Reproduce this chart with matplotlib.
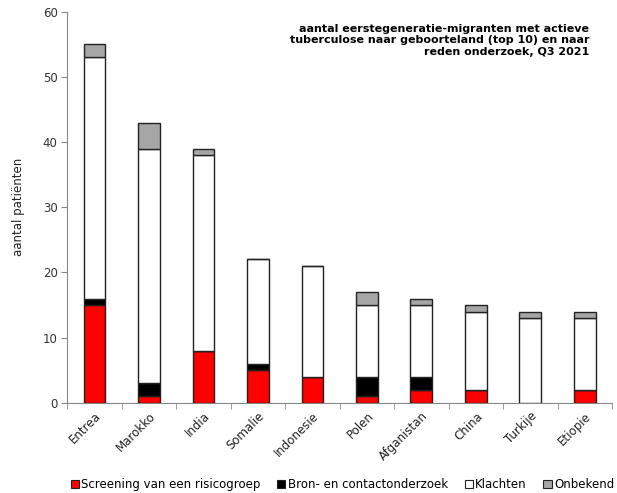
import matplotlib
matplotlib.use("Agg")
import matplotlib.pyplot as plt
import numpy as np
from matplotlib.patches import Patch

categories = ["Entrea", "Marokko", "India", "Somalie", "Indonesie", "Polen",
              "Afganistan", "China", "Turkije", "Etiopie"]
screening = [15, 1, 8, 5, 4, 1, 2, 2, 0, 2]
bron = [1, 2, 0, 1, 0, 3, 2, 0, 0, 0]
klachten = [37, 36, 30, 16, 17, 11, 11, 12, 13, 11]
onbekend = [2, 4, 1, 0, 0, 2, 1, 1, 1, 1]
series_names = ["Screening van een risicogroep", "Bron- en contactonderzoek",
                "Klachten", "Onbekend"]
colors = ["#ff0000", "#000000", "#ffffff", "#a6a6a6"]
yticks = [0, 10, 20, 30, 40, 50, 60]

plt.rcParams['font.family'] = ['DejaVu Sans']
fig = plt.figure(figsize=(6.17, 4.93), dpi=100)
ax = fig.add_axes([0.109, 0.183, 0.883, 0.793])

x = np.arange(len(categories))
bottom = np.zeros(len(categories))
for vals, col in zip([screening, bron, klachten, onbekend], colors):
    v = np.array(vals, dtype=float)
    ax.bar(x, v, bottom=bottom, width=0.4, color=col, edgecolor="#222222",
           linewidth=1.0, zorder=3)
    bottom += v

ax.set_xlim(-0.5, len(categories) - 0.5)
ax.set_ylim(0, 60)
ax.set_yticks(yticks)
ax.tick_params(axis='y', labelsize=8.5, length=4, color="#888888", pad=3,
               labelcolor="#333333")
ax.set_xticks(x)
ax.set_xticklabels(categories, rotation=45, ha='right', rotation_mode='anchor',
                   fontsize=8.5, color="#222222")
ax.tick_params(axis='x', length=0, pad=5)
ax.set_xticks(np.arange(-0.5, len(categories) + 0.5, 1), minor=True)
ax.tick_params(axis='x', which='minor', length=4, color="#888888")
for s in ["top", "right"]:
    ax.spines[s].set_visible(False)
for s in ["left", "bottom"]:
    ax.spines[s].set_color("#888888")
ax.set_ylabel("aantal patiënten", fontsize=8.5, labelpad=13, color="#222222")

ax.text(0.958, 0.97, "aantal eerstegeneratie-migranten met actieve\n"
        "tuberculose naar geboorteland (top 10) en naar\n"
        "reden onderzoek, Q3 2021",
        transform=ax.transAxes, ha='right', va='top', fontsize=8,
        fontweight='bold', linespacing=1.2)

handles = [Patch(facecolor=c, edgecolor="#222222", linewidth=0.8) for c in colors]
fig.legend(handles, series_names, loc='lower center', bbox_to_anchor=(0.555, -0.01),
           ncol=4, frameon=False, fontsize=8.5, handlelength=0.7, handleheight=0.7,
           handletextpad=0.2, columnspacing=1.4, borderaxespad=0.2)

fig.savefig("out.png", dpi=100)
